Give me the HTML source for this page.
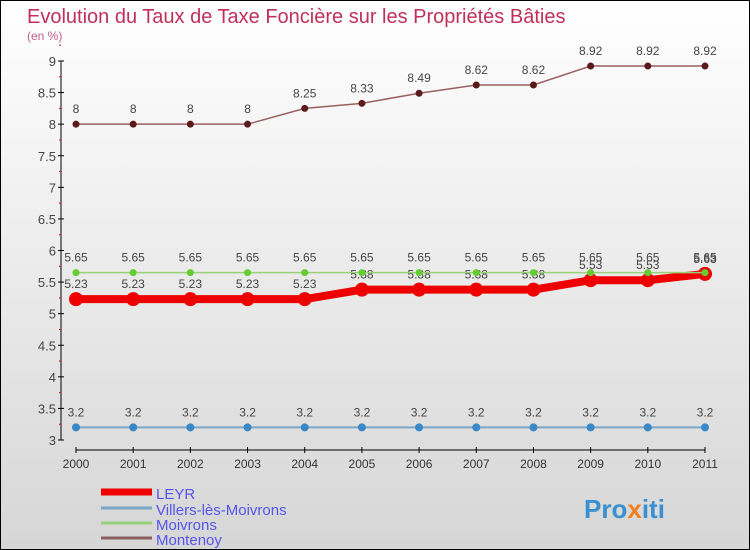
<!DOCTYPE html>
<html><head><meta charset="utf-8"><style>
body{margin:0}
#c{width:748px;height:548px;border:1px solid #000;background:linear-gradient(#fff,#d6d6d6);position:relative;font-family:"Liberation Sans",sans-serif;overflow:hidden}
</style></head><body>
<div id="c">
<svg id="s" width="748" height="548" xmlns="http://www.w3.org/2000/svg">
<text x="26" y="22" font-size="20" fill="#c0305a">Evolution du Taux de Taxe Foncière sur les Propriétés Bâties</text>
<text x="26" y="39" font-size="12" fill="#c0608a">(en %)</text>
<g id="axes"></g><g id="series"></g>
<g>
<line x1="100" y1="491" x2="151" y2="491" stroke="#e00" stroke-width="7"/>
<text x="155" y="498" font-size="15" fill="#5555ee">LEYR</text>
<line x1="100" y1="507" x2="151" y2="507" stroke="#7aa6c8" stroke-width="3"/>
<text x="155" y="514" font-size="15" fill="#5555ee">Villers-lès-Moivrons</text>
<line x1="100" y1="522" x2="151" y2="522" stroke="#99d07a" stroke-width="3"/>
<text x="155" y="529" font-size="15" fill="#5555ee">Moivrons</text>
<line x1="100" y1="537" x2="151" y2="537" stroke="#8a6060" stroke-width="3"/>
<text x="155" y="544" font-size="15" fill="#5555ee">Montenoy</text>
</g>
<text x="583" y="517" font-size="26" font-weight="bold" fill="#3a8fd0">Pro<tspan fill="#f08020">x</tspan>iti</text>
</svg></div>
<script>
const years=[2000,2001,2002,2003,2004,2005,2006,2007,2008,2009,2010,2011];
const leyr=[5.23,5.23,5.23,5.23,5.23,5.38,5.38,5.38,5.38,5.53,5.53,5.63];
const villers=[3.2,3.2,3.2,3.2,3.2,3.2,3.2,3.2,3.2,3.2,3.2,3.2];
const moivrons=[5.65,5.65,5.65,5.65,5.65,5.65,5.65,5.65,5.65,5.65,5.65,5.65];
const montenoy=[8,8,8,8,8.25,8.33,8.49,8.62,8.62,8.92,8.92,8.92];
const yTicks=[3,3.5,4,4.5,5,5.5,6,6.5,7,7.5,8,8.5,9];
const NS="http://www.w3.org/2000/svg";
const xS=i=>75+i*(704-75)/11;
const yS=v=>439-(v-3)*(439-60)/6;
function mk(t,a,p){const e=document.createElementNS(NS,t);for(const k in a)e.setAttribute(k,a[k]);p.appendChild(e);return e;}
const ax=document.getElementById('axes'),se=document.getElementById('series');
const ya=mk('line',{x1:60,y1:yS(9),x2:60,y2:yS(3),stroke:'#000'},ax);


yTicks.forEach(v=>{
 mk('line',{x1:57,x2:63,y1:yS(v),y2:yS(v),stroke:'#000'},ax);
 mk('line',{x1:58,x2:60,y1:yS(v+0.25),y2:yS(v+0.25),stroke:'#e00'},ax);
 const t=mk('text',{x:55,y:yS(v)+5,'font-size':13,fill:'#444','text-anchor':'end'},ax);t.textContent=String(v);
 
 
});
const xa=mk('line',{x1:xS(0),x2:xS(11),y1:449,y2:449,stroke:'#000'},ax);


years.forEach((y,i)=>{
 mk('line',{x1:xS(i),x2:xS(i),y1:446,y2:452,stroke:'#000'},ax);
 const t=mk('text',{x:xS(i),y:467,'font-size':12,fill:'#333','text-anchor':'middle'},ax);t.textContent=y;
 
 
});
function series(data,name,col,dot,w,r){
 const g=mk('g',{},se);
 
 
 mk('polyline',{points:data.map((v,i)=>xS(i)+','+yS(v)).join(' '),fill:'none',stroke:col,'stroke-width':w},g);
 data.forEach((v,i)=>{
  const c=mk('circle',{cx:xS(i),cy:yS(v),r:r,fill:dot},g);
  
  
  const t=mk('text',{x:xS(i),y:yS(v)-11,'font-size':12,fill:'#444','text-anchor':'middle'},g);t.textContent=String(v);
 });
}
series(villers,'villers-series','#7aa6c8','#3a88c8',2,4);
series(montenoy,'montenoy-series','#9a6060','#5a1a1a',1.5,3.5);
series(leyr,'leyr-series','#e00','#e00',8,7);
series(moivrons,'moivrons-series','#99d07a','#66cc33',1.5,3.5);
</script>
</body></html>
